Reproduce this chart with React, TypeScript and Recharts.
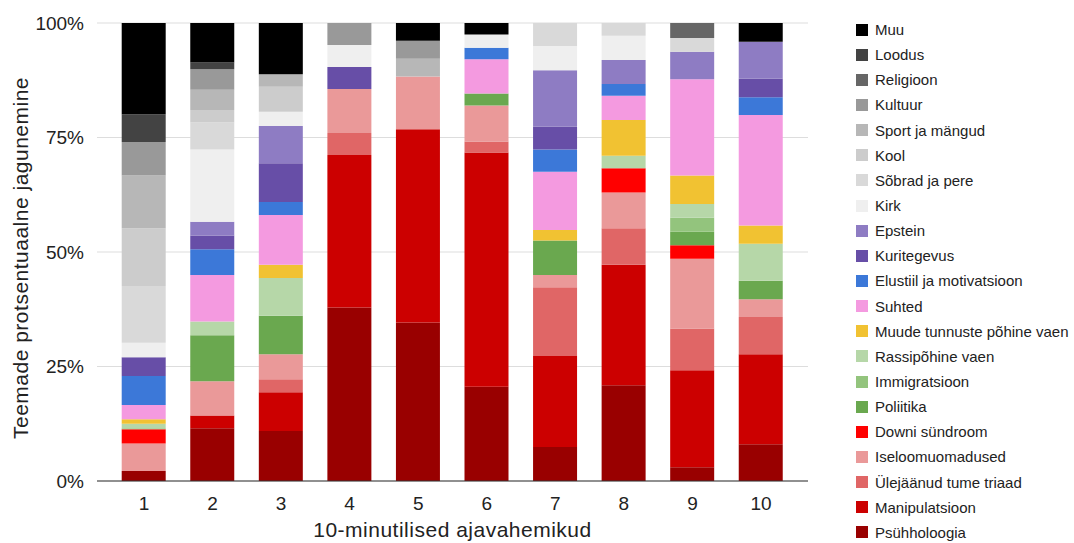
import React from 'react';
import { BarChart, Bar, XAxis, YAxis, CartesianGrid, Label } from 'recharts';

// 10-minute intervals
const intervals = ['1', '2', '3', '4', '5', '6', '7', '8', '9', '10'];

// shares per interval (percent of the bar)
const psuhholoogia = [2.2, 11.5, 10.9, 37.9, 34.6, 20.6, 7.4, 20.9, 3.0, 8.0];
const manipulatsioon = [0, 2.8, 8.5, 33.3, 42.2, 51.1, 19.9, 26.3, 21.2, 19.7];
const ulejaanudTriaad = [0, 0, 2.8, 4.8, 0, 2.4, 15.0, 8.0, 9.1, 8.1];
const iseloomuomadused = [6.0, 7.5, 5.5, 9.6, 11.5, 7.9, 2.7, 7.8, 15.2, 3.9];
const downiSundroom = [3.1, 0, 0, 0, 0, 0, 0, 5.3, 3.0, 0];
const poliitika = [0, 10.0, 8.4, 0, 0, 2.6, 7.5, 0, 2.9, 4.0];
const immigratsioon = [0.2, 0, 0, 0, 0, 0, 0, 0, 3.1, 0];
const rassipohineVaen = [1.0, 3.0, 8.2, 0, 0, 0, 0, 2.7, 3.0, 8.1];
const muudeTunnusteVaen = [1.0, 0, 2.9, 0, 0, 0, 2.3, 7.8, 6.2, 4.0];
const suhted = [3.1, 10.2, 10.9, 0, 0, 7.5, 12.7, 5.3, 21.0, 24.1];
const elustiil = [6.3, 5.6, 2.8, 0, 0, 2.5, 4.9, 2.6, 0, 3.9];
const kuritegevus = [4.1, 3.0, 8.5, 4.8, 0, 0, 5.0, 0, 0, 4.1];
const epstein = [0, 3.0, 8.1, 0, 0, 0, 12.3, 5.2, 6.0, 8.0];
const kirk = [3.2, 15.8, 3.1, 4.8, 0, 2.9, 5.3, 5.3, 0, 0];
const sobradJaPere = [12.4, 5.9, 0, 0, 0, 0, 5.0, 2.8, 3.0, 0];
const kool = [12.6, 2.7, 5.5, 0, 0, 0, 0, 0, 0, 0];
const sportJaMangud = [11.5, 4.4, 2.7, 0, 3.9, 0, 0, 0, 0, 0];
const kultuur = [7.3, 4.5, 0, 4.8, 3.9, 0, 0, 0, 0, 0];
const religioon = [0, 0, 0, 0, 0, 0, 0, 0, 3.3, 0];
const loodus = [6.1, 1.5, 0, 0, 0, 0, 0, 0, 0, 0];
const muu = [19.9, 8.6, 11.2, 0, 3.9, 2.5, 0, 0, 0, 4.1];

// stack order, bottom to top
const topics: { name: string; color: string; values: number[] }[] = [
  { name: 'Psühholoogia', color: '#990000', values: psuhholoogia },
  { name: 'Manipulatsioon', color: '#cc0000', values: manipulatsioon },
  { name: 'Ülejäänud tume triaad', color: '#e06666', values: ulejaanudTriaad },
  { name: 'Iseloomuomadused', color: '#ea9999', values: iseloomuomadused },
  { name: 'Downi sündroom', color: '#ff0000', values: downiSundroom },
  { name: 'Poliitika', color: '#6aa84f', values: poliitika },
  { name: 'Immigratsioon', color: '#93c47d', values: immigratsioon },
  { name: 'Rassipõhine vaen', color: '#b6d7a8', values: rassipohineVaen },
  { name: 'Muude tunnuste põhine vaen', color: '#f1c232', values: muudeTunnusteVaen },
  { name: 'Suhted', color: '#f49ae0', values: suhted },
  { name: 'Elustiil ja motivatsioon', color: '#3c78d8', values: elustiil },
  { name: 'Kuritegevus', color: '#674ea7', values: kuritegevus },
  { name: 'Epstein', color: '#8e7cc3', values: epstein },
  { name: 'Kirk', color: '#efefef', values: kirk },
  { name: 'Sõbrad ja pere', color: '#d9d9d9', values: sobradJaPere },
  { name: 'Kool', color: '#cccccc', values: kool },
  { name: 'Sport ja mängud', color: '#b7b7b7', values: sportJaMangud },
  { name: 'Kultuur', color: '#999999', values: kultuur },
  { name: 'Religioon', color: '#666666', values: religioon },
  { name: 'Loodus', color: '#434343', values: loodus },
  { name: 'Muu', color: '#000000', values: muu },
];

const yTicks = [0, 0.25, 0.5, 0.75, 1];

const FONT = '"Liberation Sans", Arial, sans-serif';
const TEXT = '#222222';

const data = intervals.map((label, i) => {
  const row: Record<string, string | number> = { interval: label };
  topics.forEach((t) => {
    row[t.name] = t.values[i];
  });
  return row;
});

const YTitle = (props: any) => {
  const vb = props.viewBox;
  const cx = vb.x + 20;
  const cy = vb.y + vb.height / 2 + 6;
  return (
    <text x={cx} y={cy} transform={`rotate(-90 ${cx} ${cy})`} textAnchor="middle" dominantBaseline="central"
      fontSize={21} letterSpacing={0.5} fill={TEXT} fontFamily={FONT}>
      Teemade protsentuaalne jagunemine
    </text>
  );
};

const XTitle = (props: any) => {
  const vb = props.viewBox;
  return (
    <text x={vb.x + vb.width / 2} y={vb.y + 56} textAnchor="middle" fontSize={21} letterSpacing={0.5}
      fill={TEXT} fontFamily={FONT}>
      10-minutilised ajavahemikud
    </text>
  );
};

// legend drawn beside the chart, top entry = top of stack
const TopicLegend = () => (
  <div style={{ position: 'absolute', left: 856, top: 17, fontFamily: FONT, fontSize: 15, color: TEXT }}>
    {[...topics].reverse().map((t) => (
      <div key={t.name} style={{ display: 'flex', alignItems: 'center', height: 25.15, whiteSpace: 'nowrap' }}>
        <span style={{ display: 'inline-block', width: 12, height: 12, background: t.color, marginRight: 7 }} />
        <span>{t.name}</span>
      </div>
    ))}
  </div>
);

export default function App() {
  return (
    <div style={{ position: 'absolute', left: 0, top: 0, width: 1074, height: 543, background: '#fff' }}>
      <BarChart
        width={1074}
        height={543}
        data={data}
        stackOffset="expand"
        margin={{ top: 23, right: 266, bottom: 0, left: 0 }}
      >
        <CartesianGrid vertical={false} stroke="#dddddd" />
        <XAxis
          dataKey="interval"
          height={62}
          padding={{ left: 12.7, right: 12.7 }}
          tickLine={false}
          tickSize={0}
          tickMargin={16}
          axisLine={{ stroke: '#333333' }}
          tick={{ fontSize: 19, fill: TEXT, fontFamily: FONT }}
        >
          <Label content={XTitle} />
        </XAxis>
        <YAxis
          width={97}
          domain={[0, 1]}
          ticks={yTicks}
          tickFormatter={(v: number) => `${Math.round(v * 100)}%`}
          axisLine={false}
          tickLine={false}
          tickSize={0}
          tickMargin={13}
          tick={{ fontSize: 19, fill: TEXT, fontFamily: FONT }}
        >
          <Label content={YTitle} />
        </YAxis>
        {topics.map((t) => (
          <Bar key={t.name} dataKey={t.name} stackId="a" fill={t.color} barSize={44} isAnimationActive={false} />
        ))}
      </BarChart>
      <TopicLegend />
    </div>
  );
}
